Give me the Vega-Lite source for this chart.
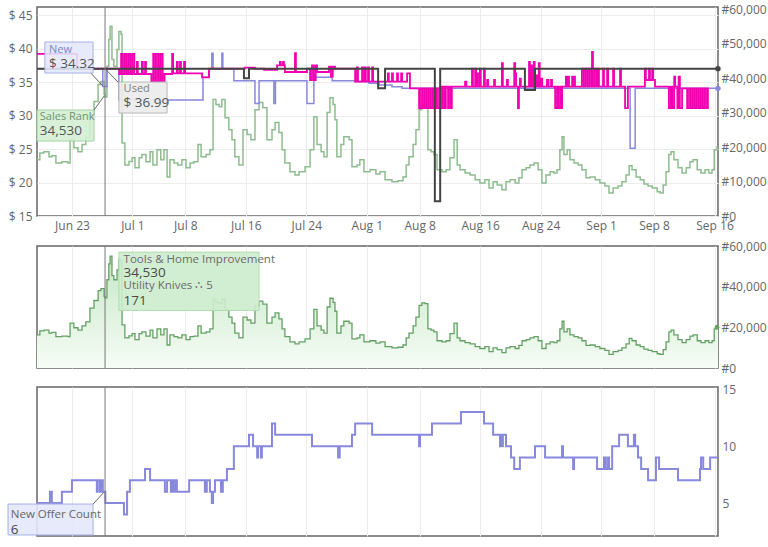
{
"$schema":"https://vega.github.io/schema/vega-lite/v6.json",
"background":"white",
"padding":{"left":6,"top":2,"right":4,"bottom":2},
"config":{"font":"Open Sans","view":{"stroke":"#666","strokeWidth":1.5},"axis":{"labelFont":"Open Sans","labelColor":"#666","labelFontSize":12,"ticks":false,"domain":false,"gridColor":"#ececec","title":null,"labelFlush":false}},
"datasets":{
"rank":[
{"t":"2023-06-18T09:00","r":16300},{"t":"2023-06-18T18:00","r":18300},{"t":"2023-06-19T07:00","r":18600},{"t":"2023-06-19T23:00","r":17200},{"t":"2023-06-20T08:00","r":17500},{"t":"2023-06-20T21:00","r":15400},{"t":"2023-06-21T16:00","r":15700},{"t":"2023-06-22T11:00","r":15400},{"t":"2023-06-22T18:00","r":22100},{"t":"2023-06-23T06:00","r":19800},{"t":"2023-06-23T19:00","r":18600},{"t":"2023-06-24T08:00","r":20700},{"t":"2023-06-24T20:00","r":22700},{"t":"2023-06-25T09:00","r":29400},{"t":"2023-06-25T22:00","r":33200},{"t":"2023-06-26T11:00","r":38100},{"t":"2023-06-26T20:00","r":39000},{"t":"2023-06-27T06:00","r":35200},{"t":"2023-06-27T09:00","r":34530},{"t":"2023-06-27T15:00","r":43400},{"t":"2023-06-27T21:00","r":51200},{"t":"2023-06-28T01:00","r":55000},{"t":"2023-06-28T07:00","r":45400},{"t":"2023-06-28T13:00","r":43400},{"t":"2023-06-28T23:00","r":48300},{"t":"2023-06-29T05:00","r":53500},{"t":"2023-06-29T12:00","r":52700},{"t":"2023-06-29T15:00","r":21200},{"t":"2023-06-30T00:00","r":14800},{"t":"2023-06-30T13:00","r":15800},{"t":"2023-06-30T23:00","r":16900},{"t":"2023-07-01T08:00","r":14000},{"t":"2023-07-01T21:00","r":16900},{"t":"2023-07-02T06:00","r":17800},{"t":"2023-07-02T19:00","r":15700},{"t":"2023-07-03T08:00","r":18600},{"t":"2023-07-03T17:00","r":14800},{"t":"2023-07-04T06:00","r":19200},{"t":"2023-07-04T18:00","r":16300},{"t":"2023-07-05T04:00","r":19200},{"t":"2023-07-05T14:00","r":11300},{"t":"2023-07-05T23:00","r":16300},{"t":"2023-07-06T12:00","r":15400},{"t":"2023-07-07T00:00","r":14800},{"t":"2023-07-07T13:00","r":16300},{"t":"2023-07-08T02:00","r":14000},{"t":"2023-07-08T15:00","r":15400},{"t":"2023-07-09T03:00","r":15700},{"t":"2023-07-09T16:00","r":20700},{"t":"2023-07-10T02:00","r":17200},{"t":"2023-07-10T18:00","r":17800},{"t":"2023-07-11T06:00","r":19200},{"t":"2023-07-11T16:00","r":33800},{"t":"2023-07-12T01:00","r":32300},{"t":"2023-07-12T11:00","r":31700},{"t":"2023-07-12T20:00","r":33800},{"t":"2023-07-13T06:00","r":28500},{"t":"2023-07-13T18:00","r":25000},{"t":"2023-07-14T04:00","r":22100},{"t":"2023-07-14T13:00","r":17200},{"t":"2023-07-15T02:00","r":14800},{"t":"2023-07-15T15:00","r":25000},{"t":"2023-07-16T04:00","r":23600},{"t":"2023-07-16T16:00","r":22100},{"t":"2023-07-17T05:00","r":30800},{"t":"2023-07-17T18:00","r":32900},{"t":"2023-07-18T06:00","r":31400},{"t":"2023-07-18T19:00","r":22100},{"t":"2023-07-19T11:00","r":25000},{"t":"2023-07-19T21:00","r":27100},{"t":"2023-07-20T09:00","r":24200},{"t":"2023-07-20T19:00","r":19200},{"t":"2023-07-21T04:00","r":15400},{"t":"2023-07-21T20:00","r":12800},{"t":"2023-07-22T12:00","r":11900},{"t":"2023-07-23T01:00","r":12800},{"t":"2023-07-23T20:00","r":14300},{"t":"2023-07-24T12:00","r":19200},{"t":"2023-07-25T00:00","r":28800},{"t":"2023-07-25T10:00","r":20700},{"t":"2023-07-25T23:00","r":18600},{"t":"2023-07-26T08:00","r":17200},{"t":"2023-07-26T18:00","r":30000},{"t":"2023-07-27T03:00","r":34300},{"t":"2023-07-27T13:00","r":32300},{"t":"2023-07-27T19:00","r":27900},{"t":"2023-07-28T01:00","r":17200},{"t":"2023-07-28T14:00","r":20700},{"t":"2023-07-28T23:00","r":23000},{"t":"2023-07-29T16:00","r":22100},{"t":"2023-07-30T01:00","r":14300},{"t":"2023-07-30T17:00","r":14800},{"t":"2023-07-31T02:00","r":16300},{"t":"2023-07-31T15:00","r":12800},{"t":"2023-08-01T10:00","r":13400},{"t":"2023-08-02T05:00","r":12200},{"t":"2023-08-02T18:00","r":12800},{"t":"2023-08-03T10:00","r":10500},{"t":"2023-08-04T08:00","r":9900},{"t":"2023-08-05T03:00","r":10200},{"t":"2023-08-05T19:00","r":11300},{"t":"2023-08-06T05:00","r":14800},{"t":"2023-08-06T14:00","r":17200},{"t":"2023-08-07T03:00","r":20700},{"t":"2023-08-07T12:00","r":25000},{"t":"2023-08-07T22:00","r":30800},{"t":"2023-08-08T07:00","r":32000},{"t":"2023-08-08T17:00","r":31700},{"t":"2023-08-09T02:00","r":19200},{"t":"2023-08-09T12:00","r":18600},{"t":"2023-08-09T21:00","r":17800},{"t":"2023-08-10T07:00","r":13400},{"t":"2023-08-10T23:00","r":12800},{"t":"2023-08-11T12:00","r":13400},{"t":"2023-08-12T00:00","r":16900},{"t":"2023-08-12T13:00","r":22100},{"t":"2023-08-12T23:00","r":14800},{"t":"2023-08-13T08:00","r":13400},{"t":"2023-08-14T00:00","r":12500},{"t":"2023-08-14T16:00","r":11900},{"t":"2023-08-15T08:00","r":10500},{"t":"2023-08-15T23:00","r":9600},{"t":"2023-08-16T15:00","r":10500},{"t":"2023-08-17T04:00","r":8100},{"t":"2023-08-17T17:00","r":9900},{"t":"2023-08-18T06:00","r":9000},{"t":"2023-08-18T21:00","r":7600},{"t":"2023-08-19T10:00","r":9900},{"t":"2023-08-19T23:00","r":10500},{"t":"2023-08-20T15:00","r":9600},{"t":"2023-08-21T03:00","r":11100},{"t":"2023-08-21T13:00","r":13400},{"t":"2023-08-22T02:00","r":14000},{"t":"2023-08-22T14:00","r":14800},{"t":"2023-08-23T03:00","r":15400},{"t":"2023-08-23T16:00","r":13400},{"t":"2023-08-24T04:00","r":9600},{"t":"2023-08-24T17:00","r":11900},{"t":"2023-08-25T06:00","r":12800},{"t":"2023-08-25T18:00","r":12500},{"t":"2023-08-26T04:00","r":13400},{"t":"2023-08-26T13:00","r":19200},{"t":"2023-08-26T20:00","r":23000},{"t":"2023-08-27T02:00","r":17800},{"t":"2023-08-27T12:00","r":19200},{"t":"2023-08-27T21:00","r":16300},{"t":"2023-08-28T10:00","r":15400},{"t":"2023-08-28T23:00","r":14800},{"t":"2023-08-29T11:00","r":13400},{"t":"2023-08-30T00:00","r":11100},{"t":"2023-08-30T13:00","r":11300},{"t":"2023-08-31T05:00","r":10500},{"t":"2023-08-31T20:00","r":9600},{"t":"2023-09-01T12:00","r":8700},{"t":"2023-09-02T01:00","r":6700},{"t":"2023-09-02T14:00","r":8100},{"t":"2023-09-03T06:00","r":8700},{"t":"2023-09-03T18:00","r":9900},{"t":"2023-09-04T07:00","r":11900},{"t":"2023-09-04T17:00","r":14600},{"t":"2023-09-05T02:00","r":13400},{"t":"2023-09-05T15:00","r":11300},{"t":"2023-09-06T04:00","r":10500},{"t":"2023-09-06T16:00","r":9300},{"t":"2023-09-07T05:00","r":8700},{"t":"2023-09-07T18:00","r":8100},{"t":"2023-09-08T10:00","r":7000},{"t":"2023-09-08T19:00","r":6700},{"t":"2023-09-09T05:00","r":9000},{"t":"2023-09-09T14:00","r":12800},{"t":"2023-09-09T23:00","r":17800},{"t":"2023-09-10T06:00","r":18600},{"t":"2023-09-10T15:00","r":16300},{"t":"2023-09-11T04:00","r":14000},{"t":"2023-09-11T17:00","r":12500},{"t":"2023-09-12T06:00","r":14000},{"t":"2023-09-12T18:00","r":15700},{"t":"2023-09-13T04:00","r":16300},{"t":"2023-09-13T17:00","r":13400},{"t":"2023-09-14T05:00","r":12500},{"t":"2023-09-14T18:00","r":13400},{"t":"2023-09-15T06:00","r":12500},{"t":"2023-09-15T16:00","r":13400},{"t":"2023-09-15T23:00","r":19200},{"t":"2023-09-16T08:00","r":20100},{"t":"2023-09-16T11:00","r":20100}
],
"used":[
{"t":"2023-06-18T09:00","p":36.99},{"t":"2023-07-15T18:00","p":35.55},{"t":"2023-07-16T10:00","p":36.99},{"t":"2023-08-02T12:00","p":34.06},{"t":"2023-08-03T10:00","p":36.99},{"t":"2023-08-10T00:00","p":17.2},{"t":"2023-08-10T17:00","p":36.99},{"t":"2023-08-21T22:00","p":33.8},{"t":"2023-08-23T06:00","p":36.99},{"t":"2023-09-16T11:00","p":36.99}
],
"newp":[
{"t":"2023-06-18T09:00","p":36.99},{"t":"2023-06-27T02:00","p":34.32},{"t":"2023-06-27T15:00","p":36.99},{"t":"2023-06-29T05:00","p":32.3},{"t":"2023-07-10T08:00","p":35.7},{"t":"2023-07-11T03:00","p":36.99},{"t":"2023-07-11T12:00","p":39.3},{"t":"2023-07-11T16:00","p":36.99},{"t":"2023-07-12T20:00","p":39.3},{"t":"2023-07-12T23:00","p":36.99},{"t":"2023-07-14T10:00","p":35.2},{"t":"2023-07-17T05:00","p":31.8},{"t":"2023-07-17T18:00","p":35.2},{"t":"2023-07-19T17:00","p":31.8},{"t":"2023-07-19T22:00","p":35.2},{"t":"2023-07-24T02:00","p":31.8},{"t":"2023-07-25T00:00","p":35.7},{"t":"2023-07-27T10:00","p":35.2},{"t":"2023-07-30T11:00","p":35.07},{"t":"2023-08-01T07:00","p":34.8},{"t":"2023-08-02T15:00","p":34.55},{"t":"2023-08-04T08:00","p":34.3},{"t":"2023-08-05T16:00","p":34.06},{"t":"2023-09-04T20:00","p":25.1},{"t":"2023-09-05T12:00","p":34.06},{"t":"2023-09-16T11:00","p":34.06}
],
"bb":[
{"t":"2023-06-18T09:00","p":39.2},{"t":"2023-06-23T16:00","p":36.99},{"t":"2023-06-29T06:00","p":36.2},{"t":"2023-06-29T12:00","p":39.2},{"t":"2023-06-29T18:00","p":36.2},{"t":"2023-06-30T00:00","p":39.2},{"t":"2023-06-30T06:00","p":36.2},{"t":"2023-06-30T12:00","p":39.2},{"t":"2023-06-30T18:00","p":36.2},{"t":"2023-07-01T00:00","p":39.2},{"t":"2023-07-01T06:00","p":36.2},{"t":"2023-07-01T14:00","p":38.0},{"t":"2023-07-01T17:00","p":36.2},{"t":"2023-07-02T06:00","p":38.0},{"t":"2023-07-02T09:00","p":36.2},{"t":"2023-07-02T16:00","p":38.0},{"t":"2023-07-02T19:00","p":36.2},{"t":"2023-07-03T12:00","p":35.0},{"t":"2023-07-03T18:00","p":39.2},{"t":"2023-07-04T00:00","p":35.0},{"t":"2023-07-04T06:00","p":39.2},{"t":"2023-07-04T12:00","p":35.0},{"t":"2023-07-04T18:00","p":39.2},{"t":"2023-07-05T00:00","p":35.0},{"t":"2023-07-05T06:00","p":36.2},{"t":"2023-07-06T06:00","p":39.2},{"t":"2023-07-06T09:00","p":36.3},{"t":"2023-07-06T21:00","p":38.0},{"t":"2023-07-07T00:00","p":36.3},{"t":"2023-07-07T07:00","p":38.0},{"t":"2023-07-07T10:00","p":36.3},{"t":"2023-07-07T20:00","p":38.0},{"t":"2023-07-07T23:00","p":36.3},{"t":"2023-07-10T05:00","p":35.7},{"t":"2023-07-11T03:00","p":36.99},{"t":"2023-07-15T21:00","p":37.15},{"t":"2023-07-17T05:00","p":36.99},{"t":"2023-07-18T10:00","p":36.8},{"t":"2023-07-20T03:00","p":37.5},{"t":"2023-07-20T12:00","p":38.0},{"t":"2023-07-20T15:00","p":37.5},{"t":"2023-07-20T22:00","p":38.0},{"t":"2023-07-21T01:00","p":37.5},{"t":"2023-07-21T04:00","p":36.5},{"t":"2023-07-22T12:00","p":39.3},{"t":"2023-07-22T15:00","p":36.5},{"t":"2023-07-24T02:00","p":36.99},{"t":"2023-07-24T12:00","p":35.3},{"t":"2023-07-24T18:00","p":37.5},{"t":"2023-07-25T00:00","p":35.3},{"t":"2023-07-25T06:00","p":37.5},{"t":"2023-07-25T10:00","p":36.5},{"t":"2023-07-27T00:00","p":37.3},{"t":"2023-07-27T06:00","p":35.8},{"t":"2023-07-27T12:00","p":37.3},{"t":"2023-07-27T19:00","p":36.99},{"t":"2023-07-30T11:00","p":35.05},{"t":"2023-07-30T17:00","p":37.2},{"t":"2023-07-30T20:00","p":35.05},{"t":"2023-07-31T09:00","p":37.2},{"t":"2023-07-31T12:00","p":35.05},{"t":"2023-07-31T18:00","p":37.2},{"t":"2023-07-31T21:00","p":35.05},{"t":"2023-08-01T04:00","p":37.2},{"t":"2023-08-01T07:00","p":35.05},{"t":"2023-08-01T17:00","p":37.2},{"t":"2023-08-01T20:00","p":35.05},{"t":"2023-08-03T19:00","p":36.3},{"t":"2023-08-03T22:00","p":35.05},{"t":"2023-08-04T08:00","p":36.3},{"t":"2023-08-04T11:00","p":35.05},{"t":"2023-08-05T00:00","p":36.3},{"t":"2023-08-05T03:00","p":35.05},{"t":"2023-08-05T13:00","p":36.3},{"t":"2023-08-05T16:00","p":35.05},{"t":"2023-08-06T08:00","p":36.3},{"t":"2023-08-06T17:00","p":34.06},{"t":"2023-08-07T22:00","p":31.1},{"t":"2023-08-08T04:00","p":34.06},{"t":"2023-08-08T10:00","p":31.1},{"t":"2023-08-08T16:00","p":34.06},{"t":"2023-08-08T22:00","p":31.1},{"t":"2023-08-09T04:00","p":34.06},{"t":"2023-08-09T10:00","p":31.1},{"t":"2023-08-09T16:00","p":34.06},{"t":"2023-08-09T22:00","p":31.1},{"t":"2023-08-10T04:00","p":34.06},{"t":"2023-08-10T10:00","p":31.1},{"t":"2023-08-10T17:00","p":34.3},{"t":"2023-08-10T23:00","p":31.1},{"t":"2023-08-11T02:00","p":34.3},{"t":"2023-08-11T08:00","p":31.1},{"t":"2023-08-11T11:00","p":34.3},{"t":"2023-08-11T18:00","p":31.1},{"t":"2023-08-11T21:00","p":34.3},{"t":"2023-08-12T03:00","p":31.1},{"t":"2023-08-12T06:00","p":34.3},{"t":"2023-08-14T00:00","p":35.05},{"t":"2023-08-14T04:00","p":34.3},{"t":"2023-08-14T22:00","p":36.99},{"t":"2023-08-15T01:00","p":34.3},{"t":"2023-08-15T08:00","p":36.99},{"t":"2023-08-15T11:00","p":34.3},{"t":"2023-08-15T14:00","p":36.3},{"t":"2023-08-15T17:00","p":34.3},{"t":"2023-08-15T23:00","p":36.99},{"t":"2023-08-16T02:00","p":34.3},{"t":"2023-08-16T12:00","p":36.99},{"t":"2023-08-16T15:00","p":34.3},{"t":"2023-08-16T22:00","p":35.3},{"t":"2023-08-17T01:00","p":34.3},{"t":"2023-08-17T20:00","p":35.3},{"t":"2023-08-17T23:00","p":34.3},{"t":"2023-08-18T21:00","p":37.8},{"t":"2023-08-19T00:00","p":34.3},{"t":"2023-08-19T13:00","p":35.3},{"t":"2023-08-19T16:00","p":34.3},{"t":"2023-08-20T12:00","p":37.8},{"t":"2023-08-20T15:00","p":36.3},{"t":"2023-08-20T18:00","p":34.3},{"t":"2023-08-21T00:00","p":31.1},{"t":"2023-08-21T03:00","p":34.3},{"t":"2023-08-21T06:00","p":35.5},{"t":"2023-08-21T09:00","p":34.3},{"t":"2023-08-22T11:00","p":38.0},{"t":"2023-08-22T14:00","p":34.3},{"t":"2023-08-22T18:00","p":37.5},{"t":"2023-08-22T21:00","p":34.3},{"t":"2023-08-23T02:00","p":38.0},{"t":"2023-08-23T05:00","p":34.3},{"t":"2023-08-23T10:00","p":36.0},{"t":"2023-08-23T13:00","p":34.3},{"t":"2023-08-23T18:00","p":37.8},{"t":"2023-08-23T21:00","p":34.3},{"t":"2023-08-24T02:00","p":35.5},{"t":"2023-08-24T05:00","p":34.3},{"t":"2023-08-24T20:00","p":35.3},{"t":"2023-08-25T01:00","p":34.3},{"t":"2023-08-25T09:00","p":35.3},{"t":"2023-08-25T12:00","p":34.3},{"t":"2023-08-25T22:00","p":31.1},{"t":"2023-08-26T04:00","p":34.3},{"t":"2023-08-26T08:00","p":31.1},{"t":"2023-08-26T14:00","p":34.3},{"t":"2023-08-26T18:00","p":31.1},{"t":"2023-08-26T20:00","p":34.3},{"t":"2023-08-27T08:00","p":35.8},{"t":"2023-08-27T11:00","p":34.3},{"t":"2023-08-27T15:00","p":35.8},{"t":"2023-08-27T18:00","p":34.3},{"t":"2023-08-28T04:00","p":35.8},{"t":"2023-08-28T07:00","p":34.3},{"t":"2023-08-28T10:00","p":35.8},{"t":"2023-08-28T13:00","p":34.3},{"t":"2023-08-29T11:00","p":37.0},{"t":"2023-08-29T17:00","p":34.3},{"t":"2023-08-29T23:00","p":37.0},{"t":"2023-08-30T05:00","p":34.3},{"t":"2023-08-30T11:00","p":37.0},{"t":"2023-08-30T17:00","p":34.3},{"t":"2023-08-30T19:00","p":39.5},{"t":"2023-08-30T22:00","p":34.3},{"t":"2023-08-31T04:00","p":37.0},{"t":"2023-08-31T10:00","p":34.3},{"t":"2023-08-31T14:00","p":37.0},{"t":"2023-08-31T17:00","p":34.3},{"t":"2023-09-01T06:00","p":37.0},{"t":"2023-09-01T09:00","p":34.3},{"t":"2023-09-01T19:00","p":37.0},{"t":"2023-09-01T22:00","p":34.3},{"t":"2023-09-02T14:00","p":37.0},{"t":"2023-09-02T17:00","p":34.3},{"t":"2023-09-03T12:00","p":37.0},{"t":"2023-09-03T15:00","p":34.3},{"t":"2023-09-04T04:00","p":31.1},{"t":"2023-09-04T13:00","p":34.3},{"t":"2023-09-06T19:00","p":37.0},{"t":"2023-09-06T22:00","p":35.3},{"t":"2023-09-07T08:00","p":37.0},{"t":"2023-09-07T11:00","p":35.3},{"t":"2023-09-07T18:00","p":37.0},{"t":"2023-09-07T21:00","p":35.3},{"t":"2023-09-08T03:00","p":34.3},{"t":"2023-09-09T23:00","p":31.1},{"t":"2023-09-10T05:00","p":34.3},{"t":"2023-09-10T10:00","p":31.1},{"t":"2023-09-10T16:00","p":35.8},{"t":"2023-09-10T19:00","p":34.3},{"t":"2023-09-11T02:00","p":31.1},{"t":"2023-09-11T06:00","p":35.8},{"t":"2023-09-11T10:00","p":31.1},{"t":"2023-09-11T17:00","p":34.06},{"t":"2023-09-12T09:00","p":31.1},{"t":"2023-09-12T15:00","p":34.06},{"t":"2023-09-12T21:00","p":31.1},{"t":"2023-09-13T03:00","p":34.06},{"t":"2023-09-13T09:00","p":31.1},{"t":"2023-09-13T15:00","p":34.06},{"t":"2023-09-13T21:00","p":31.1},{"t":"2023-09-14T03:00","p":34.06},{"t":"2023-09-14T09:00","p":31.1},{"t":"2023-09-14T15:00","p":34.06},{"t":"2023-09-14T21:00","p":31.1},{"t":"2023-09-15T03:00","p":34.06},{"t":"2023-09-15T06:00","p":34.06}
],
"offers":[
{"t":"2023-06-18T09:00","n":5},{"t":"2023-06-20T02:00","n":6},{"t":"2023-06-20T08:00","n":5},{"t":"2023-06-21T16:00","n":6},{"t":"2023-06-23T00:00","n":7},{"t":"2023-06-26T07:00","n":6},{"t":"2023-06-26T10:00","n":7},{"t":"2023-06-26T17:00","n":6},{"t":"2023-06-26T20:00","n":7},{"t":"2023-06-27T02:00","n":6},{"t":"2023-06-27T10:00","n":5},{"t":"2023-06-29T21:00","n":4},{"t":"2023-06-30T07:00","n":6},{"t":"2023-06-30T16:00","n":7},{"t":"2023-07-02T16:00","n":8},{"t":"2023-07-03T08:00","n":7},{"t":"2023-07-05T07:00","n":6},{"t":"2023-07-05T14:00","n":7},{"t":"2023-07-06T02:00","n":6},{"t":"2023-07-06T06:00","n":7},{"t":"2023-07-06T12:00","n":6},{"t":"2023-07-06T15:00","n":7},{"t":"2023-07-06T21:00","n":6},{"t":"2023-07-08T12:00","n":7},{"t":"2023-07-10T14:00","n":6},{"t":"2023-07-10T20:00","n":7},{"t":"2023-07-11T06:00","n":6},{"t":"2023-07-11T12:00","n":5},{"t":"2023-07-11T16:00","n":6},{"t":"2023-07-11T22:00","n":7},{"t":"2023-07-12T17:00","n":6},{"t":"2023-07-12T23:00","n":7},{"t":"2023-07-13T12:00","n":8},{"t":"2023-07-14T10:00","n":10},{"t":"2023-07-16T10:00","n":11},{"t":"2023-07-16T23:00","n":10},{"t":"2023-07-17T12:00","n":9},{"t":"2023-07-17T15:00","n":10},{"t":"2023-07-18T00:00","n":9},{"t":"2023-07-18T03:00","n":10},{"t":"2023-07-19T11:00","n":12},{"t":"2023-07-19T21:00","n":11},{"t":"2023-07-24T18:00","n":10},{"t":"2023-07-28T05:00","n":9},{"t":"2023-07-28T10:00","n":10},{"t":"2023-07-30T01:00","n":11},{"t":"2023-07-30T11:00","n":12},{"t":"2023-08-01T17:00","n":11},{"t":"2023-08-07T22:00","n":10},{"t":"2023-08-08T01:00","n":11},{"t":"2023-08-09T15:00","n":12},{"t":"2023-08-13T11:00","n":13},{"t":"2023-08-16T12:00","n":12},{"t":"2023-08-17T17:00","n":11},{"t":"2023-08-18T15:00","n":10},{"t":"2023-08-18T18:00","n":11},{"t":"2023-08-18T21:00","n":10},{"t":"2023-08-19T00:00","n":11},{"t":"2023-08-19T10:00","n":10},{"t":"2023-08-20T02:00","n":9},{"t":"2023-08-20T12:00","n":8},{"t":"2023-08-21T06:00","n":9},{"t":"2023-08-23T06:00","n":10},{"t":"2023-08-24T14:00","n":9},{"t":"2023-08-26T20:00","n":10},{"t":"2023-08-26T23:00","n":9},{"t":"2023-08-28T07:00","n":8},{"t":"2023-08-28T10:00","n":9},{"t":"2023-08-31T11:00","n":8},{"t":"2023-09-01T09:00","n":9},{"t":"2023-09-01T15:00","n":8},{"t":"2023-09-01T22:00","n":9},{"t":"2023-09-02T01:00","n":8},{"t":"2023-09-02T11:00","n":10},{"t":"2023-09-03T09:00","n":11},{"t":"2023-09-04T13:00","n":10},{"t":"2023-09-05T08:00","n":11},{"t":"2023-09-05T12:00","n":10},{"t":"2023-09-05T21:00","n":9},{"t":"2023-09-06T07:00","n":8},{"t":"2023-09-07T05:00","n":7},{"t":"2023-09-08T06:00","n":9},{"t":"2023-09-08T16:00","n":8},{"t":"2023-09-11T04:00","n":7},{"t":"2023-09-14T02:00","n":8},{"t":"2023-09-14T05:00","n":9},{"t":"2023-09-14T12:00","n":8},{"t":"2023-09-15T10:00","n":9},{"t":"2023-09-16T11:00","n":9}
]
},
"bounds":"flush",
"spacing":30,
"vconcat":[
{
"width":681,"height":209,
"encoding":{"x":{"field":"t","type":"temporal","scale":{"domain":[{"year":2023,"month":"jun","date":18,"hours":9},{"year":2023,"month":"sep","date":16,"hours":11}]},"axis":{"values":[{"year":2023,"month":"jun","date":23},{"year":2023,"month":"jul","date":1},{"year":2023,"month":"jul","date":8},{"year":2023,"month":"jul","date":16},{"year":2023,"month":"jul","date":24},{"year":2023,"month":"aug","date":1},{"year":2023,"month":"aug","date":8},{"year":2023,"month":"aug","date":16},{"year":2023,"month":"aug","date":24},{"year":2023,"month":"sep","date":1},{"year":2023,"month":"sep","date":8},{"year":2023,"month":"sep","date":16}],"format":"%b %-d","grid":true,"labelPadding":4,"labelFlush":false}}},
"layer":[
{"data":{"name":"rank"},"mark":{"type":"line","interpolate":"step-after","color":"#8fbc8f","strokeWidth":1.5},
 "encoding":{"y":{"field":"r","type":"quantitative","scale":{"domain":[0,60600],"nice":false,"zero":false},"axis":{"orient":"right","values":[0,10000,20000,30000,40000,50000,60000],"labelExpr":"'#' + format(datum.value, ',')","grid":false,"labelPadding":3}}}},
{"encoding":{"y":{"field":"p","type":"quantitative","scale":{"domain":[15,46.2],"nice":false,"zero":false},"axis":{"orient":"left","values":[15,20,25,30,35,40,45],"labelExpr":"'$ ' + datum.value","grid":true,"labelPadding":5}}},
 "layer":[
  {"data":{"name":"newp"},"mark":{"type":"line","interpolate":"step-after","color":"#8888dd","strokeWidth":1.5}},
  {"data":{"name":"bb"},"mark":{"type":"line","interpolate":"step-after","color":"#f000b0","strokeWidth":1.8}},
  {"data":{"name":"used"},"mark":{"type":"line","interpolate":"step-after","color":"#444444","strokeWidth":2}},
  {"data":{"values":[{"t":"2023-09-16T11:00","p":36.99,"s":"Used"},{"t":"2023-09-16T11:00","p":34.06,"s":"New"}]},"mark":{"type":"point","filled":true,"size":28,"opacity":1},"encoding":{"color":{"field":"s","type":"nominal","scale":{"domain":["Used","New"],"range":["#444444","#8888dd"]},"legend":null}}},
  {"data":{"values":[{"t":"2023-06-25T09:00","t2":"2023-06-27T02:00","p":36.49,"p2":34.4},{"t":"2023-06-27T09:00","t2":"2023-06-29T05:00","p":36.99,"p2":34.85},{"t":"2023-06-25T22:00","t2":"2023-06-27T06:00","p":30.82,"p2":32.9}]},"mark":{"type":"rule","color":"#666","strokeWidth":1},"encoding":{"x2":{"field":"t2"},"y2":{"field":"p2"}}},
  {"data":{"values":[{"t":"2023-06-19T10:00","t2":"2023-06-25T19:00","p":36.34,"p2":40.97}]},"mark":{"type":"rect","fill":"#e3e7f9","stroke":"#a7b0e3","strokeWidth":1,"fillOpacity":0.88},"encoding":{"x2":{"field":"t2"},"y2":{"field":"p2"}}},
  {"data":{"values":[{"t":"2023-06-29T05:00","t2":"2023-07-05T14:00","p":30.37,"p2":35.0}]},"mark":{"type":"rect","fill":"#ececec","stroke":"#b8b8b8","strokeWidth":1,"fillOpacity":0.92},"encoding":{"x2":{"field":"t2"},"y2":{"field":"p2"}}},
  {"data":{"values":[{"t":"2023-06-18T09:00","t2":"2023-06-25T22:00","p":26.19,"p2":30.82}]},"mark":{"type":"rect","fill":"#d3eed3","stroke":"#a3d3a3","strokeWidth":1,"fillOpacity":0.9},"encoding":{"x2":{"field":"t2"},"y2":{"field":"p2"}}},
  {"data":{"values":[{"t":"2023-06-19T23:00","p":39.85,"text":"New"}]},"mark":{"type":"text","align":"left","baseline":"middle","fontSize":11,"color":"#7d88c2"},"encoding":{"text":{"field":"text"}}},
  {"data":{"values":[{"t":"2023-06-29T20:00","p":33.9,"text":"Used"}]},"mark":{"type":"text","align":"left","baseline":"middle","fontSize":11,"color":"#808080"},"encoding":{"text":{"field":"text"}}},
  {"data":{"values":[{"t":"2023-06-18T18:00","p":29.75,"text":"Sales Rank"}]},"mark":{"type":"text","align":"left","baseline":"middle","fontSize":11,"color":"#6f946f"},"encoding":{"text":{"field":"text"}}},
  {"data":{"values":[{"t":"2023-06-19T23:00","p":37.75,"text":"$ 34.32"},{"t":"2023-06-29T20:00","p":31.8,"text":"$ 36.99"},{"t":"2023-06-18T18:00","p":27.75,"text":"34,530"}]},"mark":{"type":"text","align":"left","baseline":"middle","fontSize":13.5,"color":"#555"},"encoding":{"text":{"field":"text"}}}
 ]},
{"data":{"values":[{"t":"2023-06-27T09:00"}]},"mark":{"type":"rule","color":"#777","strokeWidth":1},"encoding":{}}
],
"resolve":{"scale":{"y":"independent"}}
},
{
"bounds":"flush",
"spacing":19,
"vconcat":[
{
"width":681,"height":122,
"encoding":{"x":{"field":"t","type":"temporal","scale":{"domain":[{"year":2023,"month":"jun","date":18,"hours":9},{"year":2023,"month":"sep","date":16,"hours":11}]},"axis":{"values":[{"year":2023,"month":"jun","date":23},{"year":2023,"month":"jul","date":1},{"year":2023,"month":"jul","date":8},{"year":2023,"month":"jul","date":16},{"year":2023,"month":"jul","date":24},{"year":2023,"month":"aug","date":1},{"year":2023,"month":"aug","date":8},{"year":2023,"month":"aug","date":16},{"year":2023,"month":"aug","date":24},{"year":2023,"month":"sep","date":1},{"year":2023,"month":"sep","date":8},{"year":2023,"month":"sep","date":16}],"labels":false,"grid":true}}},
"layer":[
{"encoding":{"y":{"field":"r","type":"quantitative","scale":{"domain":[0,60000],"nice":false,"zero":false},"axis":{"orient":"right","values":[0,20000,40000,60000],"labelExpr":"'#' + format(datum.value, ',')","grid":false,"labelPadding":3}}},
 "layer":[
  {"data":{"name":"rank"},"mark":{"type":"area","interpolate":"step-after","color":{"gradient":"linear","x1":0,"y1":0,"x2":0,"y2":1,"stops":[{"offset":0,"color":"#c6e8c6"},{"offset":1,"color":"#f6fcf6"}]}}},
  {"data":{"name":"rank"},"mark":{"type":"line","interpolate":"step-after","color":"#64a064","strokeWidth":1.3}},
  {"data":{"values":[{"t":"2023-09-16T08:00","r":20100}]},"mark":{"type":"point","filled":true,"size":22,"color":"#64a064","opacity":1}},
  {"data":{"values":[{"t":"2023-06-29T05:00","t2":"2023-07-17T18:00","r":28300,"r2":57000}]},"mark":{"type":"rect","fill":"#cdeccd","stroke":"#b0dcb0","strokeWidth":1,"fillOpacity":0.9},"encoding":{"x2":{"field":"t2"},"y2":{"field":"r2"}}},
  {"data":{"values":[{"t":"2023-06-29T20:00","r":53300,"text":"Tools & Home Improvement"},{"t":"2023-06-29T20:00","r":40200,"text":"Utility Knives ∴ 5"}]},"mark":{"type":"text","align":"left","baseline":"middle","fontSize":11.5,"color":"#6b6b6b"},"encoding":{"text":{"field":"text"}}},
  {"data":{"values":[{"t":"2023-06-29T20:00","r":46600,"text":"34,530"},{"t":"2023-06-29T20:00","r":33000,"text":"171"}]},"mark":{"type":"text","align":"left","baseline":"middle","fontSize":13.5,"color":"#4a4a4a"},"encoding":{"text":{"field":"text"}}}
 ]},
{"data":{"values":[{"t":"2023-06-27T09:00"}]},"mark":{"type":"rule","color":"#777","strokeWidth":1},"encoding":{}}
]
},
{
"width":681,"height":149,
"encoding":{"x":{"field":"t","type":"temporal","scale":{"domain":[{"year":2023,"month":"jun","date":18,"hours":9},{"year":2023,"month":"sep","date":16,"hours":11}]},"axis":{"values":[{"year":2023,"month":"jun","date":23},{"year":2023,"month":"jul","date":1},{"year":2023,"month":"jul","date":8},{"year":2023,"month":"jul","date":16},{"year":2023,"month":"jul","date":24},{"year":2023,"month":"aug","date":1},{"year":2023,"month":"aug","date":8},{"year":2023,"month":"aug","date":16},{"year":2023,"month":"aug","date":24},{"year":2023,"month":"sep","date":1},{"year":2023,"month":"sep","date":8},{"year":2023,"month":"sep","date":16}],"labels":false,"grid":true}}},
"layer":[
{"encoding":{"y":{"field":"n","type":"quantitative","scale":{"domain":[2.1,15.2],"nice":false,"zero":false},"axis":{"orient":"right","values":[5,10,15],"grid":false,"labelPadding":4}}},
 "layer":[
  {"data":{"name":"offers"},"mark":{"type":"line","interpolate":"step-after","color":"#8888dd","strokeWidth":2}},
  {"data":{"values":[{"t":"2023-06-25T19:00","t2":"2023-06-27T06:00","n":4.91,"n2":5.96}]},"mark":{"type":"rule","color":"#666","strokeWidth":1},"encoding":{"x2":{"field":"t2"},"y2":{"field":"n2"}}},
  {"data":{"values":[{"t":"2023-06-14T13:00","t2":"2023-06-25T19:00","n":2.19,"n2":4.91}]},"mark":{"type":"rect","fill":"#e3e8f9","stroke":"#a7b0e3","strokeWidth":1,"fillOpacity":0.9},"encoding":{"x2":{"field":"t2"},"y2":{"field":"n2"}}},
  {"data":{"values":[{"t":"2023-06-14T22:00","n":3.92,"text":"New Offer Count"}]},"mark":{"type":"text","align":"left","baseline":"middle","fontSize":11.5,"color":"#666"},"encoding":{"text":{"field":"text"}}},
  {"data":{"values":[{"t":"2023-06-14T22:00","n":2.6,"text":"6"}]},"mark":{"type":"text","align":"left","baseline":"middle","fontSize":13.5,"color":"#444"},"encoding":{"text":{"field":"text"}}}
 ]},
{"data":{"values":[{"t":"2023-06-27T09:00"}]},"mark":{"type":"rule","color":"#777","strokeWidth":1},"encoding":{}}
]
}
]
}
]
}
